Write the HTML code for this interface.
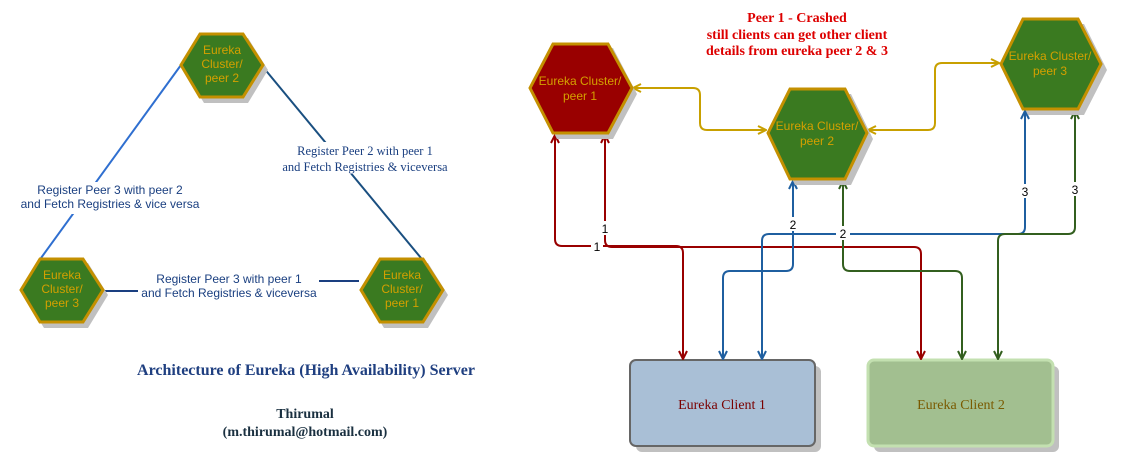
<!DOCTYPE html>
<html><head><meta charset="utf-8"><style>
html,body{margin:0;padding:0;background:#fff;}
svg{display:block;}
text{font-family:"Liberation Sans",sans-serif;}
.s{font-family:"Liberation Serif",serif;}
</style></head><body>
<svg width="1125" height="467" viewBox="0 0 1125 467" xmlns="http://www.w3.org/2000/svg">
<defs>
<marker id="ar" viewBox="0 0 10 10" refX="9" refY="5" markerWidth="10" markerHeight="10" orient="auto-start-reverse" markerUnits="userSpaceOnUse"><path d="M1,1 L9,5 L1,9" fill="none" stroke="#990000" stroke-width="2"/></marker>
<marker id="ab" viewBox="0 0 10 10" refX="9" refY="5" markerWidth="10" markerHeight="10" orient="auto-start-reverse" markerUnits="userSpaceOnUse"><path d="M1,1 L9,5 L1,9" fill="none" stroke="#1f5fa0" stroke-width="2"/></marker>
<marker id="ag" viewBox="0 0 10 10" refX="9" refY="5" markerWidth="10" markerHeight="10" orient="auto-start-reverse" markerUnits="userSpaceOnUse"><path d="M1,1 L9,5 L1,9" fill="none" stroke="#335f1f" stroke-width="2"/></marker>
<marker id="ay" viewBox="0 0 10 10" refX="9" refY="5" markerWidth="10" markerHeight="10" orient="auto-start-reverse" markerUnits="userSpaceOnUse"><path d="M1,1 L9,5 L1,9" fill="none" stroke="#c8a000" stroke-width="2"/></marker>
</defs>

<!-- left lines -->
<line x1="181" y1="65" x2="41" y2="258" stroke="#2f6fd0" stroke-width="2"/>
<line x1="263" y1="67" x2="421" y2="258" stroke="#1a4f80" stroke-width="2"/>
<line x1="103" y1="291" x2="138" y2="291" stroke="#1a3f80" stroke-width="2"/>
<line x1="319" y1="281" x2="359" y2="281" stroke="#1a3f80" stroke-width="2"/>
<rect x="18" y="182" width="210" height="32" fill="#fff"/>
<rect x="140" y="268" width="178" height="32" fill="#fff"/>
<rect x="278" y="142" width="176" height="32" fill="#fff"/>

<!-- left hexagons -->
<g>
<path d="M204,38 L248,38 L268,70 L248,103 L204,103 L184,70Z" fill="#c0c0c0"/>
<path d="M200,34 L243,34 L263,65 L243,97 L200,97 L181,65Z" fill="#3a7a20" stroke="#c49000" stroke-width="3"/>
<text x="222" y="54" font-size="12" fill="#d4a000" text-anchor="middle">Eureka</text>
<text x="222" y="68" font-size="12" fill="#d4a000" text-anchor="middle">Cluster/</text>
<text x="222" y="82" font-size="12" fill="#d4a000" text-anchor="middle">peer 2</text>
</g>
<g>
<path d="M44,263 L88,263 L108,295 L88,328 L44,328 L24,295Z" fill="#c0c0c0"/>
<path d="M40,259 L83,259 L103,290 L83,322 L40,322 L21,290Z" fill="#3a7a20" stroke="#c49000" stroke-width="3"/>
<text x="62" y="279" font-size="12" fill="#d4a000" text-anchor="middle">Eureka</text>
<text x="62" y="293" font-size="12" fill="#d4a000" text-anchor="middle">Cluster/</text>
<text x="62" y="307" font-size="12" fill="#d4a000" text-anchor="middle">peer 3</text>
</g>
<g>
<path d="M384,263 L428,263 L448,295 L428,328 L384,328 L364,295Z" fill="#c0c0c0"/>
<path d="M380,259 L423,259 L443,290 L423,322 L380,322 L361,290Z" fill="#3a7a20" stroke="#c49000" stroke-width="3"/>
<text x="402" y="279" font-size="12" fill="#d4a000" text-anchor="middle">Eureka</text>
<text x="402" y="293" font-size="12" fill="#d4a000" text-anchor="middle">Cluster/</text>
<text x="402" y="307" font-size="12" fill="#d4a000" text-anchor="middle">peer 1</text>
</g>

<text x="110" y="194" font-size="12" fill="#1a3f80" text-anchor="middle">Register Peer 3 with peer 2</text>
<text x="110" y="208" font-size="12" fill="#1a3f80" text-anchor="middle">and Fetch Registries &amp; vice versa</text>
<text x="365" y="155" font-size="12.5" fill="#1a3f80" text-anchor="middle" class="s">Register Peer 2 with peer 1</text>
<text x="365" y="171" font-size="12.5" fill="#1a3f80" text-anchor="middle" class="s">and Fetch Registries &amp; viceversa</text>
<text x="229" y="283" font-size="12" fill="#1a3f80" text-anchor="middle">Register Peer 3 with peer 1</text>
<text x="229" y="297" font-size="12" fill="#1a3f80" text-anchor="middle">and Fetch Registries &amp; viceversa</text>

<text x="306" y="375" font-size="16" font-weight="bold" fill="#1f3f80" text-anchor="middle" class="s">Architecture of Eureka (High Availability) Server</text>
<text x="305" y="418" font-size="14" font-weight="bold" fill="#1a3040" text-anchor="middle" class="s">Thirumal</text>
<text x="305" y="436" font-size="14" font-weight="bold" fill="#1a3040" text-anchor="middle" class="s">(m.thirumal@hotmail.com)</text>

<!-- right title -->
<text x="797" y="22" font-size="14" font-weight="bold" fill="#dd0000" text-anchor="middle" class="s">Peer 1 - Crashed</text>
<text x="797" y="39" font-size="14" font-weight="bold" fill="#dd0000" text-anchor="middle" class="s">still clients can get other client</text>
<text x="797" y="55" font-size="14" font-weight="bold" fill="#dd0000" text-anchor="middle" class="s">details from eureka peer 2 &amp; 3</text>

<!-- client boxes -->
<rect x="636" y="366" width="185" height="86" rx="6" fill="#c0c0c0"/>
<rect x="630" y="360" width="185" height="86" rx="6" fill="#a9bfd6" stroke="#666" stroke-width="2"/>
<text x="722" y="409" font-size="14" fill="#7a0000" text-anchor="middle" class="s">Eureka Client 1</text>
<rect x="874" y="366" width="185" height="86" rx="6" fill="#c0c0c0"/>
<rect x="868" y="360" width="185" height="86" rx="6" fill="#a2bf90" stroke="#c3e0b0" stroke-width="3"/>
<text x="961" y="409" font-size="14" fill="#7a5a00" text-anchor="middle" class="s">Eureka Client 2</text>

<!-- gold connectors -->
<path d="M633,88 L693,88 Q700,88 700,95 L700,123 Q700,130 707,130 L766,130" fill="none" stroke="#c8a000" stroke-width="2" marker-start="url(#ay)" marker-end="url(#ay)"/>
<path d="M868,130 L928,130 Q935,130 935,123 L935,70 Q935,63 942,63 L999,63" fill="none" stroke="#c8a000" stroke-width="2" marker-start="url(#ay)" marker-end="url(#ay)"/>

<!-- red -->
<path d="M555,135 L555,239 Q555,246 562,246 L676,246 Q683,246 683,253 L683,359" fill="none" stroke="#990000" stroke-width="2" marker-start="url(#ar)" marker-end="url(#ar)"/>
<path d="M605,135 L605,240 Q605,247 612,247 L914,247 Q921,247 921,254 L921,359" fill="none" stroke="#990000" stroke-width="2" marker-start="url(#ar)" marker-end="url(#ar)"/>
<!-- blue -->
<path d="M793,181 L793,264 Q793,271 786,271 L730,271 Q723,271 723,278 L723,359" fill="none" stroke="#1f5fa0" stroke-width="2" marker-start="url(#ab)" marker-end="url(#ab)"/>
<path d="M1025,111 L1025,227 Q1025,234 1018,234 L769,234 Q762,234 762,241 L762,359" fill="none" stroke="#1f5fa0" stroke-width="2" marker-start="url(#ab)" marker-end="url(#ab)"/>
<!-- green -->
<path d="M843,181 L843,264 Q843,271 850,271 L955,271 Q962,271 962,278 L962,359" fill="none" stroke="#335f1f" stroke-width="2" marker-start="url(#ag)" marker-end="url(#ag)"/>
<path d="M1075,111 L1075,227 Q1075,234 1068,234 L1005,234 Q998,234 998,241 L998,359" fill="none" stroke="#335f1f" stroke-width="2" marker-start="url(#ag)" marker-end="url(#ag)"/>

<!-- labels -->
<g font-size="12" fill="#000" text-anchor="middle">
<rect x="591" y="239" width="12" height="14" fill="#fff"/><text x="597" y="251">1</text>
<rect x="600" y="221" width="11" height="14" fill="#fff"/><text x="605" y="233">1</text>
<rect x="787" y="217" width="12" height="14" fill="#fff"/><text x="793" y="229">2</text>
<rect x="836" y="226" width="14" height="14" fill="#fff"/><text x="843" y="238">2</text>
<rect x="1019" y="184" width="12" height="14" fill="#fff"/><text x="1025" y="196">3</text>
<rect x="1069" y="182" width="12" height="14" fill="#fff"/><text x="1075" y="194">3</text>
</g>

<!-- right hexagons -->
<g>
<path d="M557,48 L613,48 L637,94 L613,139 L557,139 L534,94Z" fill="#c0c0c0"/>
<path d="M553,44 L608,44 L632,88 L608,133 L553,133 L530,88Z" fill="#990000" stroke="#c49000" stroke-width="3"/>
<text x="580" y="85" font-size="12" fill="#d4a000" text-anchor="middle">Eureka Cluster/</text>
<text x="580" y="100" font-size="12" fill="#d4a000" text-anchor="middle">peer 1</text>
</g>
<g>
<path d="M795,94 L851,94 L873,139 L851,185 L795,185 L773,139Z" fill="#c0c0c0"/>
<path d="M790,89 L845,89 L867,133 L845,179 L790,179 L768,133Z" fill="#3a7a20" stroke="#c49000" stroke-width="3"/>
<text x="817" y="130" font-size="12" fill="#d4a000" text-anchor="middle">Eureka Cluster/</text>
<text x="817" y="145" font-size="12" fill="#d4a000" text-anchor="middle">peer 2</text>
</g>
<g>
<path d="M1028,24 L1084,24 L1107,70 L1084,115 L1028,115 L1006,70Z" fill="#c0c0c0"/>
<path d="M1023,19 L1078,19 L1101,64 L1078,109 L1023,109 L1001,64Z" fill="#3a7a20" stroke="#c49000" stroke-width="3"/>
<text x="1050" y="60" font-size="12" fill="#d4a000" text-anchor="middle">Eureka Cluster/</text>
<text x="1050" y="75" font-size="12" fill="#d4a000" text-anchor="middle">peer 3</text>
</g>
</svg>
</body></html>
